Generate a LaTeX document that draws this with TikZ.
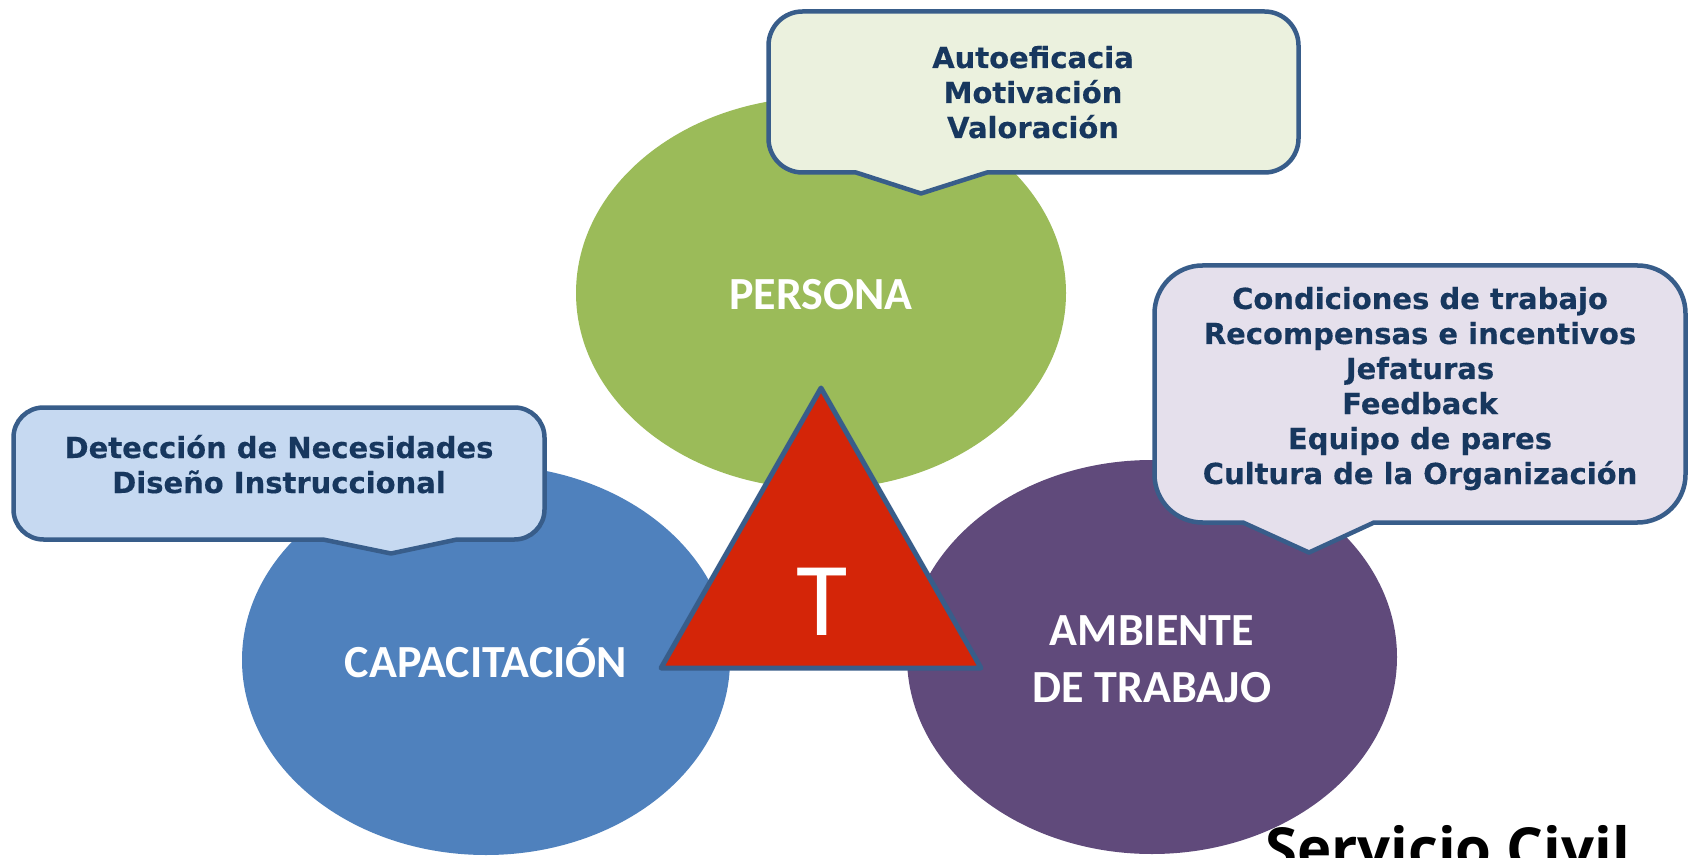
\documentclass[tikz,border=0pt]{standalone}
\usepackage{fontspec}
\setmainfont{DejaVu Sans}[BoldFeatures={FakeBold=0.35}]
\newfontfamily\calfont{Carlito}
\newfontfamily\osfont{Open Sans}
\definecolor{cgreen}{HTML}{9BBB59}
\definecolor{cblue}{HTML}{4F81BD}
\definecolor{cpurple}{HTML}{604A7B}
\definecolor{tred}{HTML}{D42508}
\definecolor{outl}{HTML}{385D8A}
\definecolor{fgreen}{HTML}{EBF1DE}
\definecolor{fblue}{HTML}{C6D9F1}
\definecolor{fpurple}{HTML}{E5E0EC}
\definecolor{navy}{HTML}{17375E}
\newcommand\drawcallout[9]{%
  \draw[calloutbox, fill=#1] ({#2+#6},#3) -- ({#4-#6},#3)
    arc[start angle=-90,end angle=0,radius=#6] -- (#4,{#5-#6})
    arc[start angle=0,end angle=90,radius=#6] -- (#8,#5) -- (#9) -- (#7,#5)
    -- ({#2+#6},#5) arc[start angle=90,end angle=180,radius=#6]
    -- (#2,{#3+#6}) arc[start angle=180,end angle=270,radius=#6] -- cycle;}
\begin{document}
\begin{tikzpicture}[x=1pt,y=-1pt,
  calloutbox/.style={draw=outl, line width=4.5pt, line join=round},
  calltext/.style={text=navy, font=\fontsize{29}{35}\selectfont\bfseries, anchor=base, inner sep=0pt},
  ellabel/.style={text=white, font=\calfont\fontsize{46}{57}\selectfont\bfseries, anchor=base, inner sep=0pt},
  brand/.style={text=black, font=\osfont\fontsize{58}{70}\selectfont\bfseries, anchor=base west, inner sep=0pt}]
\useasboundingbox (0,0) rectangle (1689,858);
\clip (0,0) rectangle (1689,858);
\fill[white] (0,0) rectangle (1689,858);
% ellipses
\fill[cgreen] (821,293) ellipse [x radius=245, y radius=196];
\fill[cblue] (486,660) ellipse [x radius=244, y radius=195];
\fill[cpurple] (1152,657) ellipse [x radius=245, y radius=197];
% triangle
\coordinate (apex) at (821,388);
\coordinate (bl) at (661,668);
\coordinate (br) at (981,668);
\draw[draw=outl, fill=tred, line width=5pt, line join=round] (apex) -- (br) -- (bl) -- cycle;
\node[text=white, font=\calfont\fontsize{105}{110}\selectfont, anchor=base, inner sep=0pt] (tletter) at (822,635) {T};
% ellipse labels
\node[ellabel] (persona) at (821,310) {PERSONA};
\node[ellabel] (capac) at (486,677) {CAPACITACIÓN};
\node[ellabel] (amb1) at (1152,645) {AMBIENTE};
\node[ellabel] (amb2) at (1152,702) {DE TRABAJO};
% callouts
\drawcallout{fgreen}{768.5}{11.5}{1298.5}{172.5}{34}{856}{987}{921,193.5}
\drawcallout{fblue}{13.5}{407.5}{544.5}{539.5}{30}{323}{457}{391,553.5}
\drawcallout{fpurple}{1154.5}{265.5}{1685.5}{522.5}{48}{1243}{1374}{1309,552.5}
\foreach \t [count=\i] in {Autoeficacia, Motivación, Valoración}
  \node[calltext] (top\i) at (1033,{33+35*\i}) {\t};
\foreach \t [count=\i] in {Detección de Necesidades, Diseño Instruccional}
  \node[calltext] (left\i) at (279,{423+35*\i}) {\t};
\foreach \t [count=\i] in {Condiciones de trabajo, Recompensas e incentivos, Jefaturas, Feedback, Equipo de pares, Cultura de la Organización}
  \node[calltext] (right\i) at (1420,{274+35*\i}) {\t};
% brand
\node[brand] (brand) at (1265,869) {Servicio Civil};
\end{tikzpicture}
\end{document}
